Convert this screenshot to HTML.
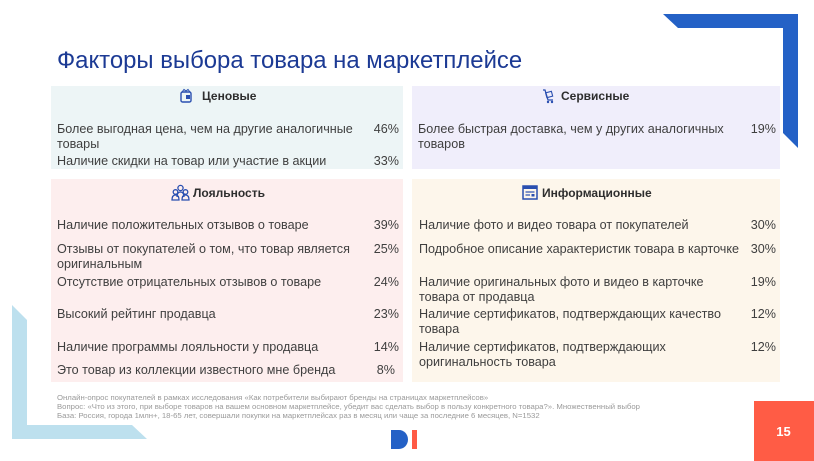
<!DOCTYPE html>
<html><head><meta charset="utf-8">
<style>
html,body{margin:0;padding:0;}
body{width:814px;height:461px;position:relative;overflow:hidden;background:#fff;font-family:"Liberation Sans",Arial,sans-serif;}
.abs{position:absolute;white-space:nowrap;}
.box{position:absolute;}
.t{position:absolute;font-size:12.6px;line-height:15px;color:#3f3f3f;white-space:nowrap;}
.p{position:absolute;font-size:12.6px;line-height:15px;color:#3f3f3f;text-align:right;width:40px;}
.h{position:absolute;font-size:12px;line-height:14px;font-weight:bold;color:#2e2e2e;white-space:nowrap;}
.fn{position:absolute;left:57px;font-size:7.75px;line-height:9px;color:#9a9a9a;white-space:nowrap;}
</style></head><body>

<svg class="abs" style="left:0;top:0" width="814" height="461">
  <polygon points="663,14 798,14 798,148 783,133 783,28 678,28" fill="#2461c6"/>
  <polygon points="12,305 27,320 27,425 132,425 147,439 12,439" fill="#bde0ee"/>
</svg>

<div class="abs" style="left:57px;top:46px;font-size:23.9px;line-height:30px;color:#1c3a94;">Факторы выбора товара на маркетплейсе</div>

<!-- boxes -->
<div class="box" style="left:51px;top:86px;width:352px;height:83px;background:#edf5f6;"></div>
<div class="box" style="left:412px;top:86px;width:368px;height:83px;background:#f0eefb;"></div>
<div class="box" style="left:51px;top:179px;width:352px;height:203px;background:#fdeeee;"></div>
<div class="box" style="left:412px;top:179px;width:368px;height:203px;background:#fdf6eb;"></div>

<!-- headers -->
<svg class="abs" style="left:180px;top:88px" width="12" height="16" viewBox="0 0 12 16">
  <rect x="1" y="4" width="10" height="10" rx="1.5" fill="none" stroke="#2a4fb0" stroke-width="1.4"/>
  <path d="M2 4 L4 1.5 L6 3 L8 1.5 L10 4" fill="none" stroke="#2a4fb0" stroke-width="1"/>
  <rect x="6" y="7" width="4" height="4" fill="#2a4fb0"/>
</svg>
<div class="h" style="left:202px;top:89px;">Ценовые</div>

<svg class="abs" style="left:542px;top:88px" width="12" height="16" viewBox="0 0 12 16">
  <path d="M1 2 L3 2 L6 12 L11 12" fill="none" stroke="#2a4fb0" stroke-width="1.3"/>
  <rect x="4" y="4" width="6" height="5" fill="none" stroke="#2a4fb0" stroke-width="1.1" transform="rotate(-15 7 6)"/>
  <circle cx="6" cy="14" r="1.2" fill="#2a4fb0"/><circle cx="10" cy="14" r="1.2" fill="#2a4fb0"/>
</svg>
<div class="h" style="left:561px;top:89px;">Сервисные</div>

<svg class="abs" style="left:171px;top:184px" width="19" height="17" viewBox="0 0 19 17">
  <circle cx="9.5" cy="4" r="2.6" fill="none" stroke="#2a4fb0" stroke-width="1.3"/>
  <circle cx="4.5" cy="8" r="2.3" fill="none" stroke="#2a4fb0" stroke-width="1.3"/>
  <circle cx="14.5" cy="8" r="2.3" fill="none" stroke="#2a4fb0" stroke-width="1.3"/>
  <path d="M1 16 Q1 11 4.5 11 Q8 11 8 16 Z M11 16 Q11 11 14.5 11 Q18 11 18 16 Z" fill="none" stroke="#2a4fb0" stroke-width="1.3"/>
  <path d="M6 13 Q6 8 9.5 8 Q13 8 13 13" fill="none" stroke="#2a4fb0" stroke-width="1.3"/>
</svg>
<div class="h" style="left:193px;top:186px;">Лояльность</div>

<svg class="abs" style="left:522px;top:185px" width="16" height="15" viewBox="0 0 16 15">
  <rect x="1" y="1" width="14" height="13" fill="none" stroke="#2a4fb0" stroke-width="1.5"/>
  <rect x="1" y="1" width="14" height="3" fill="#2a4fb0"/>
  <line x1="3.5" y1="7" x2="12.5" y2="7" stroke="#2a4fb0" stroke-width="1.2"/>
  <line x1="3.5" y1="10" x2="8" y2="10" stroke="#2a4fb0" stroke-width="1.2"/>
  <rect x="9.5" y="9" width="3" height="2.5" fill="#2a4fb0"/>
</svg>
<div class="h" style="left:542px;top:186px;">Информационные</div>

<!-- top-left items -->
<div class="t" style="left:57px;top:122px;">Более выгодная цена, чем на другие аналогичные</div>
<div class="t" style="left:57px;top:137px;">товары</div>
<div class="p" style="left:359px;top:122px;">46%</div>
<div class="t" style="left:57px;top:154px;">Наличие скидки на товар или участие в акции</div>
<div class="p" style="left:359px;top:154px;">33%</div>

<!-- top-right items -->
<div class="t" style="left:418px;top:122px;">Более быстрая доставка, чем у других аналогичных</div>
<div class="t" style="left:418px;top:137px;">товаров</div>
<div class="p" style="left:736px;top:122px;">19%</div>

<!-- bottom-left items -->
<div class="t" style="left:57px;top:218px;">Наличие положительных отзывов о товаре</div>
<div class="p" style="left:359px;top:218px;">39%</div>
<div class="t" style="left:57px;top:242px;">Отзывы от покупателей о том, что товар является</div>
<div class="t" style="left:57px;top:257px;">оригинальным</div>
<div class="p" style="left:359px;top:242px;">25%</div>
<div class="t" style="left:57px;top:275px;">Отсутствие отрицательных отзывов о товаре</div>
<div class="p" style="left:359px;top:275px;">24%</div>
<div class="t" style="left:57px;top:307px;">Высокий рейтинг продавца</div>
<div class="p" style="left:359px;top:307px;">23%</div>
<div class="t" style="left:57px;top:340px;">Наличие программы лояльности у продавца</div>
<div class="p" style="left:359px;top:340px;">14%</div>
<div class="t" style="left:57px;top:363px;">Это товар из коллекции известного мне бренда</div>
<div class="p" style="left:355px;top:363px;">8%</div>

<!-- bottom-right items -->
<div class="t" style="left:419px;top:218px;">Наличие фото и видео товара от покупателей</div>
<div class="p" style="left:736px;top:218px;">30%</div>
<div class="t" style="left:419px;top:242px;">Подробное описание характеристик товара в карточке</div>
<div class="p" style="left:736px;top:242px;">30%</div>
<div class="t" style="left:419px;top:275px;">Наличие оригинальных фото и видео в карточке</div>
<div class="t" style="left:419px;top:290px;">товара от продавца</div>
<div class="p" style="left:736px;top:275px;">19%</div>
<div class="t" style="left:419px;top:307px;">Наличие сертификатов, подтверждающих качество</div>
<div class="t" style="left:419px;top:322px;">товара</div>
<div class="p" style="left:736px;top:307px;">12%</div>
<div class="t" style="left:419px;top:340px;">Наличие сертификатов, подтверждающих</div>
<div class="t" style="left:419px;top:355px;">оригинальность товара</div>
<div class="p" style="left:736px;top:340px;">12%</div>

<!-- footnotes -->
<div class="fn" style="top:393px;">Онлайн-опрос покупателей в рамках исследования «Как потребители выбирают бренды на страницах маркетплейсов»</div>
<div class="fn" style="top:402px;">Вопрос: «Что из этого, при выборе товаров на вашем основном маркетплейсе, убедит вас сделать выбор в пользу конкретного товара?». Множественный выбор</div>
<div class="fn" style="top:411px;">База: Россия, города 1млн+, 18-65 лет, совершали покупки на маркетплейсах раз в месяц или чаще за последние 6 месяцев, N=1532</div>

<!-- logo -->
<svg class="abs" style="left:391px;top:430px" width="27" height="19" viewBox="0 0 27 19">
  <path d="M0 0 L8 0 A9 9.5 0 0 1 8 19 L0 19 Z" fill="#2461c6"/>
  <rect x="21" y="0" width="5" height="19" fill="#ff5a45"/>
</svg>

<!-- page number -->
<div class="abs" style="left:754px;top:401px;width:60px;height:60px;background:#ff5c45;"></div>
<div class="abs" style="left:754px;top:424px;width:59px;text-align:center;font-size:13px;line-height:16px;font-weight:bold;color:#fff;">15</div>

</body></html>
